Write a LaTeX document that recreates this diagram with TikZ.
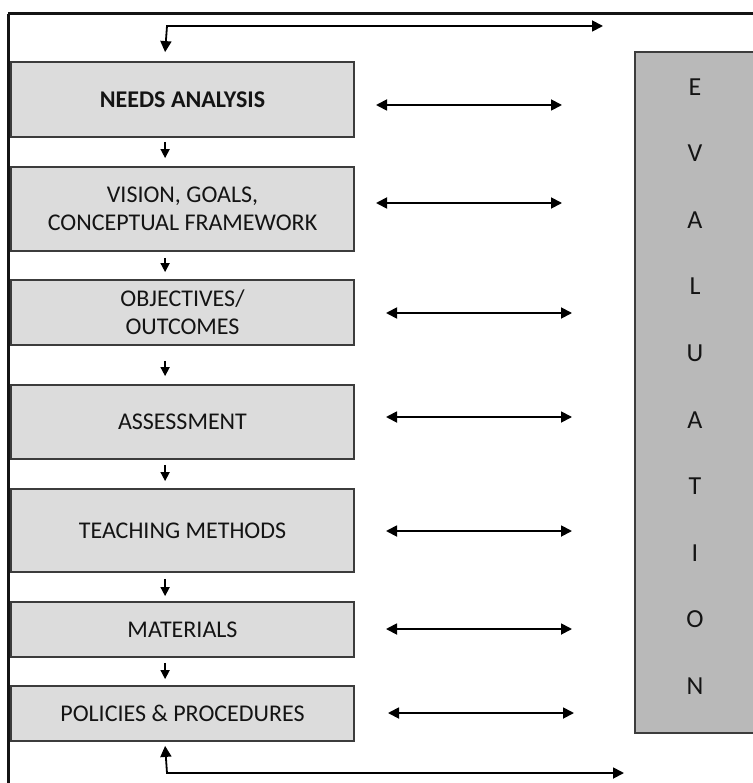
\documentclass[tikz,border=0pt]{standalone}
\usepackage{fontspec}
\setmainfont{Carlito}
\usetikzlibrary{arrows.meta}
\definecolor{boxfill}{HTML}{DCDCDC}
\definecolor{evalfill}{HTML}{B9B9B9}
\definecolor{edge}{HTML}{3C3C3C}
\definecolor{ink}{HTML}{141414}
\tikzset{
  stagebox/.style={draw=edge, line width=1.8pt, fill=boxfill, minimum width=343pt, inner sep=0pt, align=center, text=ink, font=\fontsize{24}{28}\selectfont},
  evalbox/.style={draw=edge, line width=1.8pt, fill=evalfill, inner sep=0pt},
  letter/.style={text=ink, font=\fontsize{26}{30}\selectfont, inner sep=0pt},
  flow/.style={line width=1.6pt, -{Triangle[length=9pt,width=9pt]}},
  both/.style={line width=1.8pt, line join=miter, {Triangle[length=11pt,width=11pt]}-{Triangle[length=11pt,width=11pt]}},
  frameline/.style={line width=3pt, draw=ink}
}
\begin{document}
\begin{tikzpicture}[x=1pt,y=-1pt]
\useasboundingbox (0,0) rectangle (752,783);
% outer frame (top and left sides)
\draw[frameline] (8,14) -- (760,14);
\draw[frameline] (8,14) -- (8,790);
% stages
\node[stagebox, minimum height=75pt] (b1) at (182.5,99.5) {\textbf{NEEDS ANALYSIS}};
\node[stagebox, minimum height=84pt] (b2) at (182.5,209) {VISION, GOALS,\\CONCEPTUAL FRAMEWORK};
\node[stagebox, minimum height=65pt] (b3) at (182.5,312.5) {OBJECTIVES/\\OUTCOMES};
\node[stagebox, minimum height=74pt] (b4) at (182.5,422) {ASSESSMENT};
\node[stagebox, minimum height=83pt] (b5) at (182.5,530.5) {TEACHING METHODS};
\node[stagebox, minimum height=55pt] (b6) at (182.5,629.5) {MATERIALS};
\node[stagebox, minimum height=55pt] (b7) at (182.5,713.5) {POLICIES \& PROCEDURES};
% evaluation column
\node[evalbox, minimum width=140pt, minimum height=681pt, anchor=north west] (ev) at (634,51) {};
\foreach \l [count=\i from 0] in {E,V,A,L,U,A,T,I,O,N}
  \node[letter] (ev\i) at (695,{87+66.55*\i}) {\l};
% flow arrows between stages
\foreach \a/\b/\s/\e in {b1/b2/4/8,b2/b3/6/7,b3/b4/15/8,b4/b5/5/7,b5/b6/6/5,b6/b7/5/6}
  \draw[flow] ([xshift=155pt,yshift=-\s pt]\a.south west) -- ([xshift=155pt,yshift=\e pt]\b.north west);
% top and bottom feedback connectors
\coordinate (topR) at (603,26);
\coordinate (botR) at (624,773);
\draw[both] (topR) -- (167,26) -- ([xshift=155pt,yshift=9pt]b1.north west);
\draw[both] (botR) -- (167,773) -- ([xshift=155pt,yshift=-4pt]b7.south west);
% two-way arrows to evaluation
\foreach \i/\xa/\xb/\y in {1/376/562/105, 2/376/562/203, 3/386/572/313, 4/386/572/417, 5/386/572/531, 6/386/572/629, 7/388/574/713}{
  \coordinate (l\i) at (\xa,\y);
  \coordinate (r\i) at (\xb,\y);
  \draw[both] (l\i) -- (r\i);
}
\end{tikzpicture}
\end{document}
